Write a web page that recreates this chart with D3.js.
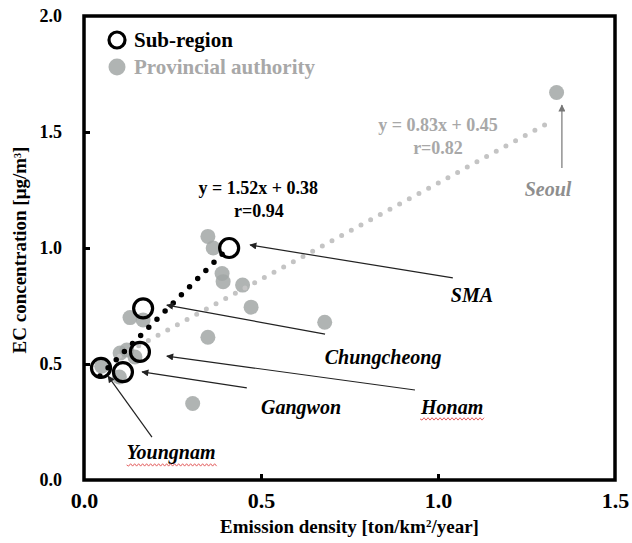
<!DOCTYPE html>
<html>
<head>
<meta charset="utf-8">
<script src="https://cdn.jsdelivr.net/npm/d3@7/dist/d3.min.js"></script>
<style>
  html, body { margin: 0; padding: 0; background: #fff; }
  svg text { font-family: "Liberation Serif", "Times New Roman", serif; font-weight: bold; }
</style>
</head>
<body>
<div id="chart"></div>
<script>
// sub-region values (emission density, EC concentration)
const subNames = ["SMA", "Chungcheong", "Honam", "Gangwon", "Youngnam"];
const subX = [0.41, 0.167, 0.158, 0.11, 0.048];
const subY = [1.00, 0.74, 0.552, 0.465, 0.483];

// provincial authority values
const provX = [1.335, 0.35, 0.365, 0.39, 0.393, 0.448, 0.472, 0.68, 0.35, 0.307, 0.13, 0.167, 0.102, 0.121, 0.144, 0.10, 0.05];
const provY = [1.67, 1.05, 1.00, 0.89, 0.855, 0.84, 0.745, 0.68, 0.615, 0.33, 0.70, 0.69, 0.547, 0.56, 0.53, 0.444, 0.49];

// regression fits
const subFit = { slope: 1.52, icpt: 0.38, r: "0.94", from: 0.045, to: 0.41 };
const provFit = { slope: 0.83, icpt: 0.45, r: "0.82", from: 0.10, to: 1.31 };

const xTicks = [0.0, 0.5, 1.0, 1.5];
const yTicks = [0.0, 0.5, 1.0, 1.5, 2.0];

// annotation labels: [text, labelX, labelY, arrowFromX, arrowFromY, arrowToX, arrowToY]
const notes = [
    ["SMA", 1.096, 0.797, 1.042, 0.871, 0.469, 1.013],
    ["Chungcheong", 0.845, 0.530, 0.681, 0.629, 0.234, 0.754],
    ["Honam", 1.040, 0.315, 0.935, 0.388, 0.234, 0.534],
    ["Gangwon", 0.613, 0.315, 0.460, 0.397, 0.164, 0.466],
    ["Youngnam", 0.246, 0.121, 0.192, 0.185, 0.068, 0.448]
];
const seoulNote = ["Seoul", 1.311, 1.254, 1.350, 1.345, 1.350, 1.616];
const squiggly = ["Honam", "Youngnam"];

const W = 632, H = 543;
const margin = {top: 16, right: 17, bottom: 63, left: 84};
const width = W - margin.left - margin.right;
const height = H - margin.top - margin.bottom;

const grayPt = "#a2a7a6";
const grayTxt = "#a8a8a8";

const x = d3.scaleLinear().domain([0, 1.5]).range([0, width]);
const y = d3.scaleLinear().domain([0, 2.0]).range([height, 0]);

const svg = d3.select("#chart").append("svg")
    .attr("width", W)
    .attr("height", H);

const defs = svg.append("defs");
function addArrow(id, color) {
    defs.append("marker")
        .attr("id", id)
        .attr("viewBox", "0 0 10 10")
        .attr("refX", 9).attr("refY", 5)
        .attr("markerWidth", 9).attr("markerHeight", 7)
        .attr("markerUnits", "userSpaceOnUse")
        .attr("orient", "auto")
        .append("path")
        .attr("d", "M0,0 L10,5 L0,10 Z")
        .attr("fill", color);
}
addArrow("arrBlack", "#222");
addArrow("arrGray", "#777");

const g = svg.append("g")
    .attr("transform", "translate(" + margin.left + "," + margin.top + ")");

// axes with inward ticks
const xAxis = g.append("g")
    .attr("transform", "translate(0," + height + ")")
    .call(d3.axisBottom(x).tickValues(xTicks).tickSize(-6).tickPadding(12).tickFormat(d3.format(".1f")));
xAxis.select(".domain").remove();
xAxis.selectAll(".tick line").attr("stroke", "#000").attr("stroke-width", 3)
    .filter(d => d === 0 || d === 1.5).remove();
xAxis.selectAll(".tick text").attr("font-size", 22).attr("fill", "#000")
    .attr("font-family", "Liberation Serif").attr("font-weight", "bold");

const yAxis = g.append("g")
    .call(d3.axisLeft(y).tickValues(yTicks).tickSize(-6).tickPadding(22).tickFormat(d3.format(".1f")));
yAxis.select(".domain").remove();
yAxis.selectAll(".tick line").attr("stroke", "#000").attr("stroke-width", 3)
    .filter(d => d === 0 || d === 2).remove();
yAxis.selectAll(".tick text").attr("font-size", 18).attr("fill", "#000")
    .attr("font-family", "Liberation Serif").attr("font-weight", "bold");

// frame
g.append("rect")
    .attr("x", 0).attr("y", 0)
    .attr("width", width).attr("height", height)
    .attr("fill", "none")
    .attr("stroke", "#000")
    .attr("stroke-width", 3.5);

// axis titles
svg.append("text")
    .attr("x", margin.left + width / 2)
    .attr("y", 533)
    .attr("text-anchor", "middle")
    .attr("font-size", 19)
    .html("Emission density [ton/km<tspan baseline-shift='super' font-size='11'>2</tspan>/year]");

svg.append("text")
    .attr("transform", "translate(26," + 250 + ") rotate(-90)")
    .attr("text-anchor", "middle")
    .attr("font-size", 19)
    .html("EC concentration [μg/m<tspan baseline-shift='super' font-size='10'>3</tspan>]");

// regression lines (dotted)
const fitLine = d3.line().x(d => x(d[0])).y(d => y(d[1]));
function fitPts(f) {
    return [[f.from, f.slope * f.from + f.icpt], [f.to, f.slope * f.to + f.icpt]];
}

const provData = provX.map((v, i) => ({x: v, y: provY[i]}));
const subData = subX.map((v, i) => ({x: v, y: subY[i], name: subNames[i]}));

// provincial points
g.selectAll(".prov")
    .data(provData)
    .enter().append("circle")
    .attr("class", "prov")
    .attr("cx", d => x(d.x))
    .attr("cy", d => y(d.y))
    .attr("r", 7.5)
    .attr("fill", grayPt)
    .attr("fill-opacity", 0.85);

g.append("path")
    .datum(fitPts(provFit))
    .attr("d", fitLine)
    .attr("fill", "none")
    .attr("stroke", "#c4c4c4")
    .attr("stroke-width", 5)
    .attr("stroke-linecap", "round")
    .attr("stroke-dasharray", "0 11");

// sub-region open circles
g.selectAll(".sub")
    .data(subData)
    .enter().append("circle")
    .attr("class", "sub")
    .attr("cx", d => x(d.x))
    .attr("cy", d => y(d.y))
    .attr("r", 9.5)
    .attr("fill", "none")
    .attr("stroke", "#000")
    .attr("stroke-width", 3.2);

g.append("path")
    .datum(fitPts(subFit))
    .attr("d", fitLine)
    .attr("fill", "none")
    .attr("stroke", "#000")
    .attr("stroke-width", 5.5)
    .attr("stroke-linecap", "round")
    .attr("stroke-dasharray", "0 11.5");

// fit equations
function eqText(f) {
    return "y = " + f.slope.toFixed(2) + "x + " + f.icpt.toFixed(2);
}
g.append("text").attr("x", x(0.492)).attr("y", y(1.259) + 6)
    .attr("text-anchor", "middle").attr("font-size", 18).attr("fill", "#000")
    .text(eqText(subFit));
g.append("text").attr("x", x(0.494)).attr("y", y(1.159) + 6)
    .attr("text-anchor", "middle").attr("font-size", 18).attr("fill", "#000")
    .text("r=" + subFit.r);
g.append("text").attr("x", x(1.0)).attr("y", y(1.530) + 6)
    .attr("text-anchor", "middle").attr("font-size", 18).attr("fill", grayTxt)
    .text(eqText(provFit));
g.append("text").attr("x", x(1.0)).attr("y", y(1.431) + 6)
    .attr("text-anchor", "middle").attr("font-size", 18).attr("fill", grayTxt)
    .text("r=" + provFit.r);

// annotations
function drawNote(n, color, marker) {
    g.append("line")
        .attr("x1", x(n[3])).attr("y1", y(n[4]))
        .attr("x2", x(n[5])).attr("y2", y(n[6]))
        .attr("stroke", color)
        .attr("stroke-width", 1.2)
        .attr("marker-end", "url(#" + marker + ")");
    const t = g.append("text")
        .attr("x", x(n[1])).attr("y", y(n[2]) + 7)
        .attr("text-anchor", "middle")
        .attr("font-size", 20)
        .attr("font-style", "italic")
        .attr("fill", color === "#222" ? "#000" : "#8e8e8e")
        .text(n[0]);
    if (squiggly.indexOf(n[0]) >= 0) {
        const b = t.node().getBBox();
        const yy = b.y + b.height + 1;
        let d = "M" + b.x + "," + yy;
        for (let k = 0, px = b.x; px < b.x + b.width; k++) {
            px += 2;
            d += " L" + px + "," + (yy + (k % 2 ? -1.2 : 1.2));
        }
        g.append("path").attr("d", d).attr("fill", "none")
            .attr("stroke", "#e05050").attr("stroke-width", 0.9);
    }
}
notes.forEach(n => drawNote(n, "#222", "arrBlack"));
drawNote(seoulNote, "#777", "arrGray");

// legend
const leg = svg.append("g");
leg.append("circle").attr("cx", 117).attr("cy", 40).attr("r", 8)
    .attr("fill", "none").attr("stroke", "#000").attr("stroke-width", 3.2);
leg.append("text").attr("x", 134).attr("y", 47).attr("font-size", 21).attr("fill", "#000")
    .text("Sub-region");
leg.append("circle").attr("cx", 117).attr("cy", 67).attr("r", 8.5)
    .attr("fill", grayPt).attr("fill-opacity", 0.85);
leg.append("text").attr("x", 134).attr("y", 74).attr("font-size", 21).attr("fill", grayTxt)
    .text("Provincial authority");
</script>
</body>
</html>
